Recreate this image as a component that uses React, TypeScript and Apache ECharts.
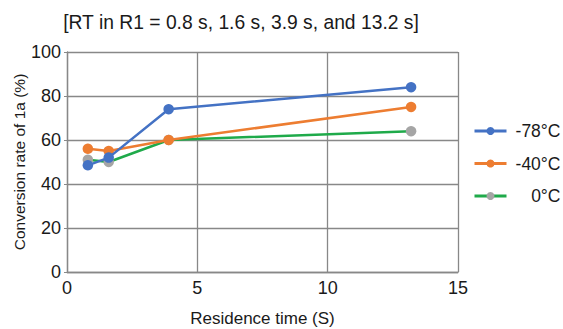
import React, { useEffect, useRef } from "react";
import * as echarts from "echarts";

const residenceTimes = [0.8, 1.6, 3.9, 13.2];
const seriesNames = ["-78°C", "-40°C", "0°C"];
const conv78 = [48.5, 52, 74, 84];
const conv40 = [56, 55, 60, 75];
const conv0 = [51, 50, 60, 64];
const xTicks = [0, 5, 10, 15];
const yTicks = [0, 20, 40, 60, 80, 100];

const FONT = "Liberation Sans, Arial, sans-serif";

export default function App() {
  const ref = useRef<HTMLDivElement>(null);
  useEffect(() => {
    if (!ref.current) return;
    const chart = echarts.init(ref.current, undefined, { renderer: "svg" });
    const mk = (vals: number[]) => residenceTimes.map((t, i) => [t, vals[i]]);
    const lineColors = ["#4472C4", "#ED7D31", "#1FAA4A"];
    const markerColors = ["#4472C4", "#ED7D31", "#A5A5A5"];
    const datas = [conv78, conv40, conv0];
    chart.setOption({
      animation: false,
      backgroundColor: "#ffffff",
      title: {
        text: "[RT in R1 = 0.8 s, 1.6 s, 3.9 s, and 13.2 s]",
        left: 236,
        top: 8,
        textAlign: "center",
        textStyle: { fontFamily: FONT, fontSize: 19.3, fontWeight: "normal", color: "#1a1a1a" },
      },
      grid: { left: 67, right: 105, top: 52, bottom: 57, outerBoundsMode: "none", containLabel: false },
      legend: {
        orient: "vertical",
        left: 473,
        top: 122,
        padding: 0,
        itemWidth: 32,
        itemHeight: 10,
        itemGap: 14.5,
        data: seriesNames.map((name, i) => ({
          name,
          itemStyle: { color: markerColors[i], borderWidth: 0, borderColor: markerColors[i] },
          lineStyle: { color: lineColors[i], width: 3 },
        })),
        formatter: (name: string) => `{a|${name}}`,
        textStyle: {
          fontFamily: FONT,
          fontSize: 17.5,
          color: "#1a1a1a",
          rich: { a: { fontFamily: FONT, fontSize: 17.5, color: "#1a1a1a", width: 49, align: "right" } },
        },
      },
      xAxis: {
        type: "value",
        min: xTicks[0],
        max: xTicks[xTicks.length - 1],
        interval: 5,
        name: "Residence time (S)",
        nameLocation: "middle",
        nameGap: 38,
        nameMoveOverlap: false,
        nameTextStyle: { fontFamily: FONT, fontSize: 17, color: "#1a1a1a" },
        axisLine: { show: true, lineStyle: { color: "#888", width: 1.3 } },
        axisTick: { show: false },
        splitLine: { show: true, lineStyle: { color: "#888", width: 1.3 } },
        axisLabel: { fontFamily: FONT, fontSize: 18, color: "#1a1a1a", margin: 7 },
      },
      yAxis: {
        type: "value",
        min: yTicks[0],
        max: yTicks[yTicks.length - 1],
        interval: 20,
        name: "Conversion rate of 1a (%)",
        nameLocation: "middle",
        nameGap: 39.5,
        nameMoveOverlap: false,
        nameTextStyle: { fontFamily: FONT, fontSize: 15.5, color: "#1a1a1a" },
        axisLine: { show: true, lineStyle: { color: "#888", width: 1.3 } },
        axisTick: { show: true, length: 3, lineStyle: { color: "#888" } },
        splitLine: { show: true, lineStyle: { color: "#888", width: 1.3 } },
        axisLabel: { fontFamily: FONT, fontSize: 18, color: "#1a1a1a", margin: 6 },
      },
      series: seriesNames.map((name, i) => ({
        name,
        type: "line",
        data: mk(datas[i]),
        symbol: "circle",
        symbolSize: 10.5,
        lineStyle: { color: lineColors[i], width: 2.5 },
        itemStyle: { color: markerColors[i] },
        z: 3 - i,
      })),
    });
    return () => chart.dispose();
  }, []);
  return <div ref={ref} style={{ width: 563, height: 329, position: "absolute", left: 0, top: 0 }} />;
}
